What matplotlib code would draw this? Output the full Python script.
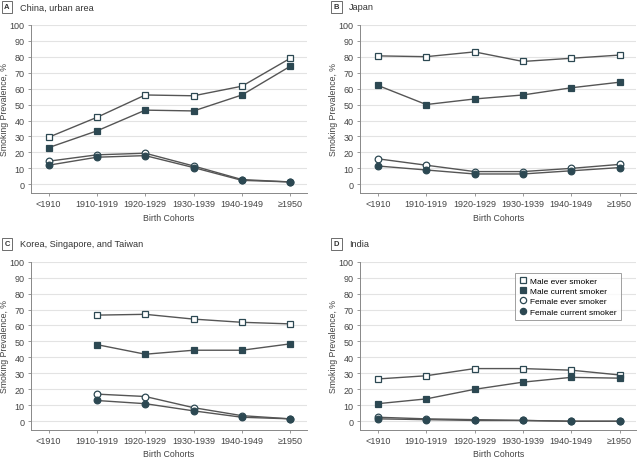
import matplotlib
matplotlib.use("Agg")
import matplotlib.pyplot as plt
import numpy as np

plt.rcParams['font.family'] = ['Liberation Sans', 'DejaVu Sans']

cohorts = ["<1910", "1910-1919", "1920-1929", "1930-1939", "1940-1949", "\u22651950"]
nan = np.nan

# China, urban area
a_male_ever = [29.5, 42, 56, 55.5, 61.5, 79]
a_male_cur = [23, 33.5, 46.5, 46, 56, 74]
a_fem_ever = [14.5, 18.5, 19.5, 11.5, 3, 1.5]
a_fem_cur = [12, 17, 18, 10.5, 2.5, 1.5]

# Japan
b_male_ever = [80.5, 80, 83, 77, 79, 81]
b_male_cur = [62, 50, 53.5, 56, 60.5, 64]
b_fem_ever = [16, 12, 8, 8, 10, 12.5]
b_fem_cur = [11.5, 9, 6.5, 6.5, 8.5, 10.5]

# Korea, Singapore, and Taiwan
c_male_ever = [nan, 66.5, 67, 64, 62, 61]
c_male_cur = [nan, 48, 42, 44.5, 44.5, 48.5]
c_fem_ever = [nan, 17, 15.5, 8.5, 3.5, 1.5]
c_fem_cur = [nan, 13, 11, 6.5, 2.5, 1.5]

# India
d_male_ever = [26.5, 28.5, 33, 33, 32, 29]
d_male_cur = [11, 14, 20, 24.5, 27.5, 27]
d_fem_ever = [2.5, 1.5, 1, 0.5, 0, 0]
d_fem_cur = [1.5, 1, 0.5, 0.5, 0, 0]

panels = [
    ("A", "China, urban area", [0.048, 0.578, 0.432, 0.366],
     a_male_ever, a_male_cur, a_fem_ever, a_fem_cur),
    ("B", "Japan", [0.5625, 0.578, 0.432, 0.366],
     b_male_ever, b_male_cur, b_fem_ever, b_fem_cur),
    ("C", "Korea, Singapore, and Taiwan", [0.048, 0.063, 0.432, 0.366],
     c_male_ever, c_male_cur, c_fem_ever, c_fem_cur),
    ("D", "India", [0.5625, 0.063, 0.432, 0.366],
     d_male_ever, d_male_cur, d_fem_ever, d_fem_cur),
]

dark = "#2c4852"
line = "#555555"
text_col = "#444444"
labels = ["Male ever smoker", "Male current smoker",
          "Female ever smoker", "Female current smoker"]

fig = plt.figure(figsize=(6.4, 4.6), dpi=100)

for letter, title, pos, me, mc, fe, fc in panels:
    ax = fig.add_axes(pos)
    x = np.arange(len(cohorts))
    styles = [
        (me, "s", "white"),
        (mc, "s", dark),
        (fe, "o", "white"),
        (fc, "o", dark),
    ]
    for (vals, mk, fcol), lab in zip(styles, labels):
        ax.plot(x, vals, color=line, lw=1.0, marker=mk, markersize=4.8,
                markerfacecolor=fcol, markeredgecolor=dark,
                markeredgewidth=0.9, label=lab, zorder=3)

    ax.set_xlim(-0.37, 5.35)
    ax.set_ylim(-5.5, 100)
    ax.set_yticks(range(0, 101, 10))
    ax.set_xticks(x)
    ax.set_xticklabels(cohorts)
    ax.tick_params(labelsize=6.5, colors=text_col, length=2.5, width=0.6,
                   pad=2)
    ax.tick_params(axis="both", color="#888888")
    ax.grid(axis="y", color="#e3e3e3", lw=0.8)
    ax.set_axisbelow(True)
    for s in ["top", "right"]:
        ax.spines[s].set_visible(False)
    for s in ["left", "bottom"]:
        ax.spines[s].set_color("#888888")
        ax.spines[s].set_linewidth(0.7)
    ax.set_xlabel("Birth Cohorts", fontsize=6.3, color=text_col, labelpad=3)
    ax.set_ylabel("Smoking Prevalence, %", fontsize=6.3, color=text_col)
    ax.yaxis.set_label_coords(-0.08, 0.5)

    top = pos[1] + pos[3] + 0.039
    fig.text(pos[0] - 0.037, top, letter, fontsize=5.5, fontweight="bold",
             color="#333333", ha="center", va="center",
             bbox=dict(boxstyle="square,pad=0.35", fc="white", ec="#555555",
                       lw=0.6))
    fig.text(pos[0] - 0.017, top, title, fontsize=6.6, color="#333333",
             ha="left", va="center")

    if letter == "D":
        leg = ax.legend(loc="upper right", bbox_to_anchor=(0.945, 0.935),
                        fontsize=6.0, frameon=True, fancybox=False,
                        handlelength=0.8, handletextpad=0.5,
                        borderpad=0.5, labelspacing=0.3, borderaxespad=0)
        leg.get_frame().set_edgecolor("#888888")
        leg.get_frame().set_linewidth(0.7)
        for h in leg.get_lines():
            h.set_linestyle("none")
            h.set_markersize(4.5)

fig.savefig("out.png", dpi=100)
